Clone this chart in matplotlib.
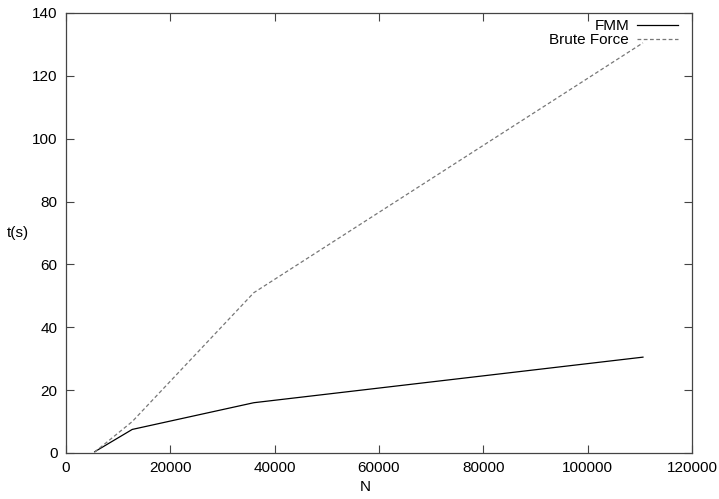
import matplotlib
matplotlib.use('Agg')
import matplotlib.pyplot as plt

# timings
n_bodies = [5500, 12700, 36000, 110600]
fmm_time = [0.4, 7.5, 16.0, 30.5]
brute_time = [0.3, 10.0, 51.0, 130.5]

x_ticks = [0, 20000, 40000, 60000, 80000, 100000, 120000]
y_ticks = [0, 20, 40, 60, 80, 100, 120, 140]

plt.rcParams['font.family'] = ['Liberation Sans', 'DejaVu Sans']

fig = plt.figure(figsize=(7.19, 4.99), dpi=100)
ax = fig.add_axes([66 / 719, 46 / 499, 626 / 719, 440 / 499])

ax.plot(n_bodies, fmm_time, color='black', lw=0.9, label='FMM')
ax.plot(n_bodies, brute_time, color='#777777', lw=0.9, ls=(0, (3, 2)),
        label='Brute Force')

ax.set_xlim(0, 120000)
ax.set_ylim(0, 140)
ax.set_xticks(x_ticks)
ax.set_yticks(y_ticks)
ax.tick_params(direction='in', length=6, width=0.8, color='#444444',
               top=True, right=True, labelsize=11, pad=6)
for s in ax.spines.values():
    s.set_color('#444444')
    s.set_linewidth(0.9)

fig.text(365 / 719, 1 - 487 / 499, 'N', ha='center', va='center', fontsize=11)
fig.text(18 / 719, 1 - 233 / 499, 't(s)', ha='center', va='center', fontsize=11)

leg = ax.legend(loc='upper right', bbox_to_anchor=(678 / 719, 1 - 19 / 499),
                bbox_transform=fig.transFigure, frameon=False, markerfirst=False,
                handlelength=2.7, fontsize=11, borderaxespad=0, borderpad=0,
                labelspacing=0.0, handletextpad=0.5)
for t in leg.get_texts():
    t.set_ha('right')

fig.savefig('out.png', dpi=100)
